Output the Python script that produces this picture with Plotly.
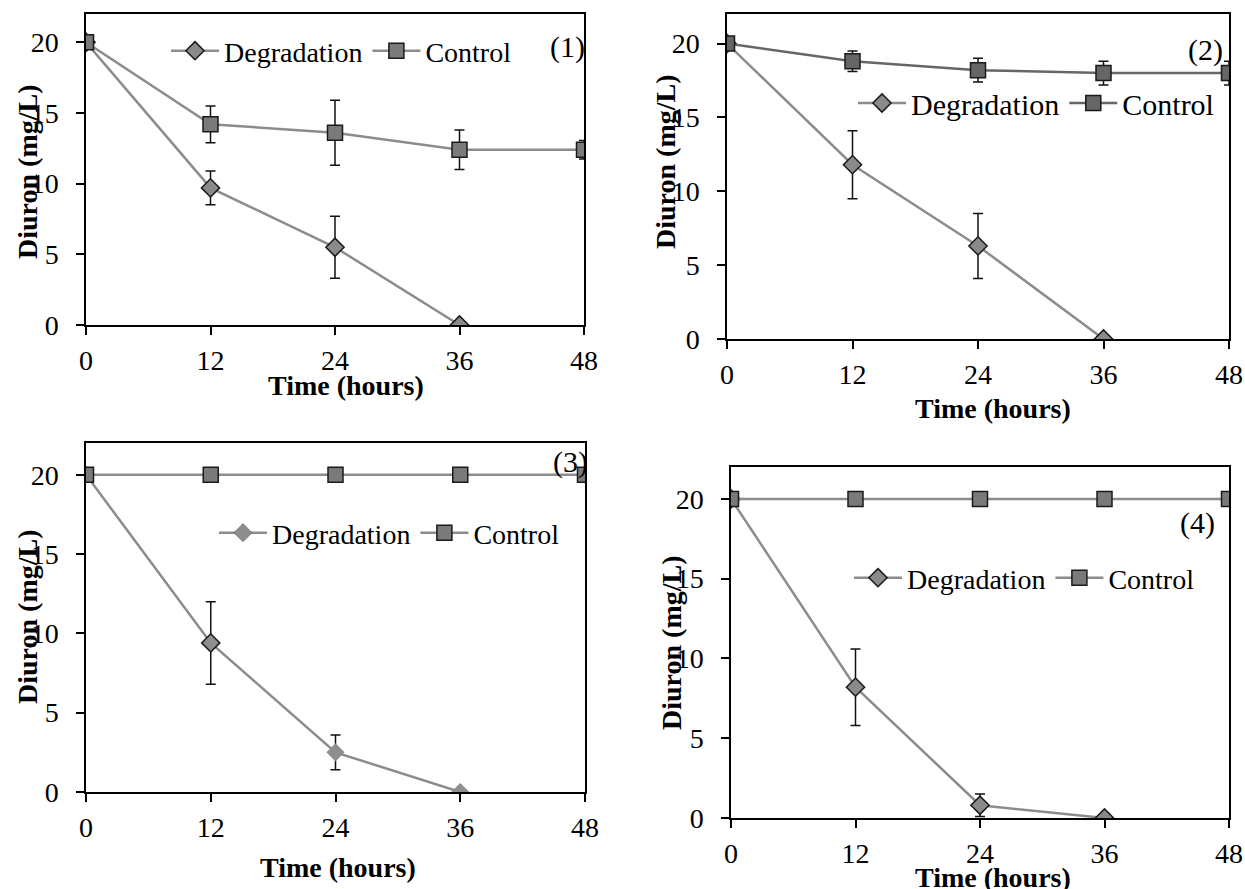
import plotly.graph_objects as go

time_h = [0, 12, 24, 36, 48]
deg_time = [0, 12, 24, 36]
x_ticks = [0, 12, 24, 36, 48]
y_ticks = [0, 5, 10, 15, 20]

# Panel 1
p1_deg = [20, 9.7, 5.5, 0]
p1_deg_err = [0, 1.2, 2.2, 0]
p1_ctrl = [20, 14.2, 13.6, 12.4, 12.4]
p1_ctrl_err = [0, 1.3, 2.3, 1.4, 0.65]
# Panel 2
p2_deg = [20, 11.8, 6.3, 0]
p2_deg_err = [0, 2.3, 2.2, 0]
p2_ctrl = [20, 18.8, 18.2, 18.0, 18.0]
p2_ctrl_err = [0, 0.7, 0.8, 0.8, 0.8]
# Panel 3
p3_deg = [20, 9.4, 2.5, 0]
p3_deg_err = [0, 2.6, 1.1, 0]
p3_ctrl = [20, 20, 20, 20, 20]
# Panel 4
p4_deg = [20, 8.2, 0.8, 0]
p4_deg_err = [0, 2.4, 0.7, 0]
p4_ctrl = [20, 20, 20, 20, 20]

W, H = 1245, 889
FONT = "Liberation Serif"
TICK_SIZE = 28
TITLE_SIZE = 28

def px_x(a, b):
    return [a / W, b / W]

def px_y(top, bottom):
    return [1 - bottom / H, 1 - top / H]

domains = [
    (px_x(86, 584), px_y(14, 325)),
    (px_x(727, 1229), px_y(14, 339)),
    (px_x(86, 585), px_y(443, 792)),
    (px_x(731, 1229), px_y(467, 818)),
]

fig = go.Figure()

panels = [
    dict(deg=p1_deg, deg_err=p1_deg_err, ctrl=p1_ctrl, ctrl_err=p1_ctrl_err,
         deg_line="#8c8c8c", ctrl_line="#8c8c8c", ctrl_fill="#7a7a7a", deg_fill="#8a8a8a",
         deg_mlw=[1.5, 1.5, 1.5, 1.5]),
    dict(deg=p2_deg, deg_err=p2_deg_err, ctrl=p2_ctrl, ctrl_err=p2_ctrl_err,
         deg_line="#8c8c8c", ctrl_line="#666666", ctrl_fill="#666666", deg_fill="#8a8a8a",
         deg_mlw=[1.5, 1.5, 1.5, 1.5]),
    dict(deg=p3_deg, deg_err=p3_deg_err, ctrl=p3_ctrl, ctrl_err=None,
         deg_line="#8c8c8c", ctrl_line="#8c8c8c", ctrl_fill="#7a7a7a", deg_fill="#8e8e8e",
         deg_mlw=[0, 1.5, 0, 0]),
    dict(deg=p4_deg, deg_err=p4_deg_err, ctrl=p4_ctrl, ctrl_err=None,
         deg_line="#8c8c8c", ctrl_line="#8c8c8c", ctrl_fill="#7a7a7a", deg_fill="#8a8a8a",
         deg_mlw=[1.5, 1.5, 1.5, 1.5]),
]

# (left x, centre y, font size) of each panel legend, in pixels
legend_pos = [(166, 51, 28), (853, 103, 30), (214, 533, 28), (849, 578, 28)]

for i, p in enumerate(panels):
    n = i + 1
    xa = "x" if n == 1 else f"x{n}"
    ya = "y" if n == 1 else f"y{n}"
    lg = "legend" if n == 1 else f"legend{n}"
    fig.add_trace(go.Scatter(
        x=deg_time, y=p["deg"], name="Degradation", mode="lines+markers",
        xaxis=xa, yaxis=ya, legend=lg,
        line=dict(color=p["deg_line"], width=2.5),
        marker=dict(symbol="diamond", size=14, color=p["deg_fill"],
                    line=dict(color="#1a1a1a", width=p["deg_mlw"])),
        error_y=dict(type="data", array=p["deg_err"], visible=True,
                     color="#111111", thickness=1.5, width=5),
    ))
    ctrl_err = dict(type="data", array=p["ctrl_err"], visible=True,
                    color="#111111", thickness=1.5, width=5) if p["ctrl_err"] else None
    fig.add_trace(go.Scatter(
        x=time_h, y=p["ctrl"], name="Control", mode="lines+markers",
        xaxis=xa, yaxis=ya, legend=lg,
        line=dict(color=p["ctrl_line"], width=2.5),
        marker=dict(symbol="square", size=15, color=p["ctrl_fill"],
                    line=dict(color="#1a1a1a", width=1.5)),
        error_y=ctrl_err,
    ))

layout = dict(
    width=W, height=H,
    margin=dict(l=0, r=0, t=0, b=0, autoexpand=False),
    paper_bgcolor="white", plot_bgcolor="white",
    font=dict(family=FONT, size=TICK_SIZE, color="black"),
    showlegend=True,
)

for i, (dx, dy) in enumerate(domains):
    n = i + 1
    xk = "xaxis" if n == 1 else f"xaxis{n}"
    yk = "yaxis" if n == 1 else f"yaxis{n}"
    ya = "y" if n == 1 else f"y{n}"
    xa = "x" if n == 1 else f"x{n}"
    layout[xk] = dict(domain=dx, anchor=ya, range=[0, 48], tickvals=x_ticks,
                      ticks="outside", ticklen=8, tickwidth=1.5, tickcolor="black",
                      showline=True, linecolor="black", linewidth=1.5, mirror=True,
                      showgrid=False, zeroline=False, ticklabelstandoff=2,
                      automargin=False,
                      tickfont=dict(family=FONT, size=TICK_SIZE, color="black"))
    layout[yk] = dict(domain=dy, anchor=xa, range=[0, 22], tickvals=y_ticks,
                      ticks="outside", ticklen=8, tickwidth=1.5, tickcolor="black",
                      showline=True, linecolor="black", linewidth=1.5, mirror=True,
                      showgrid=False, zeroline=False, ticklabelstandoff=12,
                      automargin=False,
                      tickfont=dict(family=FONT, size=TICK_SIZE, color="black"))
    lg = "legend" if n == 1 else f"legend{n}"
    lx, ly, ls = legend_pos[i]
    layout[lg] = dict(x=lx / W, y=1 - ly / H, xanchor="left", yanchor="middle",
                      orientation="h", bgcolor="rgba(0,0,0,0)", borderwidth=0,
                      font=dict(family=FONT, size=ls, color="black"),
                      itemwidth=48, tracegroupgap=0)

fig.update_layout(**layout)

# axis titles and panel labels
ytitle_pos = [(28, 172), (666, 162), (27, 617), (671, 643)]
xtitle_pos = [(346, 385), (993, 408), (338, 867), (993, 877)]
label_pos = [(567, 47, "(1)"), (1205, 50, "(2)"), (570, 462, "(3)"), (1197, 523, "(4)")]

for (x, y) in ytitle_pos:
    fig.add_annotation(text="<b>Diuron (mg/L)</b>", x=x / W, y=1 - y / H, xref="paper", yref="paper",
                       textangle=-90, showarrow=False, xanchor="center", yanchor="middle",
                       font=dict(family=FONT, size=TITLE_SIZE, color="black"))
for (x, y) in xtitle_pos:
    fig.add_annotation(text="<b>Time (hours)</b>", x=x / W, y=1 - y / H, xref="paper", yref="paper",
                       showarrow=False, xanchor="center", yanchor="middle",
                       font=dict(family=FONT, size=TITLE_SIZE, color="black"))
for (x, y, t) in label_pos:
    fig.add_annotation(text=t, x=x / W, y=1 - y / H, xref="paper", yref="paper",
                       showarrow=False, xanchor="center", yanchor="middle",
                       font=dict(family=FONT, size=30, color="black"))

fig.write_html("out.html")
